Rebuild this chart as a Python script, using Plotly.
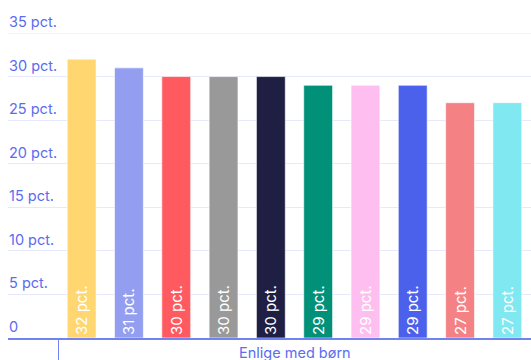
import plotly.graph_objects as go

category = ["Enlige med børn"]
values = [32, 31, 30, 30, 30, 29, 29, 29, 27, 27]
labels = ["32 pct.", "31 pct.", "30 pct.", "30 pct.", "30 pct.", "29 pct.", "29 pct.", "29 pct.", "27 pct.", "27 pct."]
colors = ["#FFD670", "#939EF0", "#FF5A5F", "#999999", "#1F1F44",
          "#009178", "#FFBEF0", "#4B61EB", "#F48285", "#7FE8F0"]
tick_vals = [0, 5, 10, 15, 20, 25, 30, 35]
tick_text = ["0", "5 pct.", "10 pct.", "15 pct.", "20 pct.", "25 pct.", "30 pct.", "35 pct."]

BLUE = "#5B6CF0"
GRID = "#E6E9FC"
FONT = "Inter, Lato, sans-serif"

fig = go.Figure()
for i, v in enumerate(values):
    fig.add_trace(go.Bar(
        x=category, y=[v], text=[labels[i]],
        marker=dict(color=colors[i], line=dict(color="rgba(255,255,255,0.6)", width=1)),
        textposition="inside", insidetextanchor="start", textangle=-90,
        textfont=dict(color="white", size=15, family=FONT),
        hoverinfo="skip", showlegend=False, cliponaxis=False,
    ))

for tv, tt in zip(tick_vals, tick_text):
    fig.add_annotation(
        x=0, xref="paper", y=tv, yref="y", text=tt, showarrow=False,
        xanchor="left", yanchor="bottom", xshift=-1, yshift=1,
        font=dict(size=14.5, color=BLUE, family=FONT),
    )

# category label below the axis
fig.add_annotation(
    x=category[0], xref="x", y=0, yref="paper", text=category[0], showarrow=False,
    xanchor="center", yanchor="top", yshift=-4,
    font=dict(size=14.5, color=BLUE, family=FONT),
)

fig.add_shape(type="line", xref="paper", yref="y", x0=0, x1=1,
              y0=tick_vals[-1], y1=tick_vals[-1],
              line=dict(color=GRID, width=1), layer="below")

fig.update_layout(
    width=531, height=360,
    margin=dict(l=8, r=0, t=33, b=22, autoexpand=False),
    paper_bgcolor="white", plot_bgcolor="white",
    barmode="group", bargap=0.0, bargroupgap=0.39,
    font=dict(family=FONT, color=BLUE, size=14),
    uniformtext=dict(minsize=8, mode="show"),
)
fig.update_xaxes(
    type="category", range=[-0.6057, 0.5], automargin=False,
    showgrid=False, showline=True, linecolor="#7083F0", linewidth=2,
    ticks="outside", tickson="boundaries", ticklen=22, tickcolor="#7083F0", tickwidth=1,
    showticklabels=False,
)
fig.update_yaxes(
    range=[0, 35], tickvals=tick_vals, showticklabels=False, automargin=False,
    showgrid=True, gridcolor=GRID, gridwidth=1,
    zeroline=False, showline=False,
)

fig.write_html("out.html")
